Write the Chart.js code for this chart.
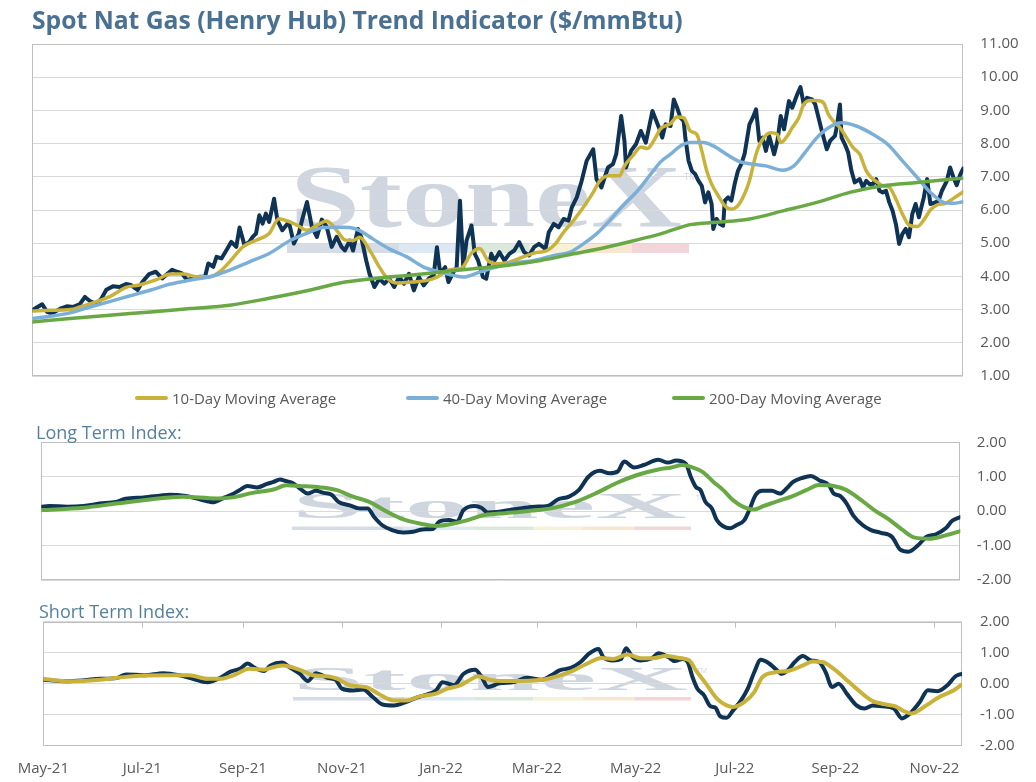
<!DOCTYPE html>
<html>
<head>
<meta charset="utf-8">
<script src="https://cdn.jsdelivr.net/npm/chart.js@4.4.1/dist/chart.umd.min.js"></script>
<style>
  body { margin:0; width:1036px; height:782px; background:#fff; position:relative; overflow:hidden; font-family: "Open Sans", sans-serif; }
  canvas { position:absolute; left:0; }
  .hdr { position:absolute; white-space:nowrap; }
  #title { left:32px; top:5px; font-size:24.7px; line-height:30px; font-weight:700; color:#4a7191; }
  .sub { font-size:18px; line-height:22px; color:#56809c; }
  .lg { position:absolute; top:388px; height:20px; line-height:20px; font-size:15px; color:#595959; display:flex; align-items:center; white-space:nowrap; }
  .lg i { display:inline-block; width:33px; height:4px; margin-right:4px; border-radius:2px; }
</style>
</head>
<body>
<canvas id="main" width="1036" height="390" style="top:0"></canvas>
<canvas id="longIdx" width="1036" height="180" style="top:420px"></canvas>
<canvas id="shortIdx" width="1036" height="182" style="top:600px"></canvas>

<div id="title" class="hdr">Spot Nat Gas (Henry Hub) Trend Indicator ($/mmBtu)</div>
<div class="lg" style="left:135px"><i style="background:#c9b23a"></i>10-Day Moving Average</div>
<div class="lg" style="left:406px"><i style="background:#7bafd7"></i>40-Day Moving Average</div>
<div class="lg" style="left:672px"><i style="background:#69a945"></i>200-Day Moving Average</div>
<div class="hdr sub" style="left:36px; top:421px">Long Term Index:</div>
<div class="hdr sub" style="left:39px; top:600px">Short Term Index:</div>

<script>
// x values are days counted from 1 May 2021
const startDate = '2021-05-01';
const lastDay = 566;
const xTickDates = ['2021-05-01','2021-07-01','2021-09-01','2021-11-01','2022-01-01','2022-03-01','2022-05-01','2022-07-01','2022-09-01','2022-11-01'];
const xTickLabels = ['May-21','Jul-21','Sep-21','Nov-21','Jan-22','Mar-22','May-22','Jul-22','Sep-22','Nov-22'];

// spot price ($/mmBtu)
const spotDay = [0,6,9,12,17,21,25,29,32,35,39,42,45,49,53,57,60,64,67,71,75,79,82,85,88,91,94,98,102,105,107,110,112,115,118,121,124,126,129,132,134,136,138,140,142,144,147,149,152,156,159,162,164,167,170,173,176,179,182,185,188,190,193,195,198,200,203,205,208,211,214,217,220,223,226,229,232,235,238,241,244,246,248,251,253,256,258,260,262,264,267,269,271,274,276,279,281,284,287,290,293,296,299,302,305,308,312,314,317,320,323,326,328,331,334,337,341,343,346,348,350,353,355,358,360,361,364,367,370,373,377,381,383,385,388,390,392,394,396,397,399,401,403,405,407,409,411,413,414,416,418,420,421,423,425,427,429,431,433,436,438,440,442,444,446,448,451,453,455,457,460,462,465,467,469,471,474,476,478,480,483,485,488,489,491,492,494,496,498,500,503,505,507,509,511,513,515,517,519,521,523,525,527,529,531,533,535,537,539,542,544,546,549,551,553,556,558,560,562,564,566];
const spotPrice = [2.98,3.16,2.93,2.88,3.03,3.10,3.08,3.17,3.38,3.26,3.17,3.33,3.60,3.70,3.68,3.77,3.74,3.59,3.84,4.07,4.14,3.94,4.07,4.20,4.14,4.09,3.89,3.94,3.99,3.99,4.39,4.29,4.59,4.54,4.79,5.04,4.89,5.47,4.94,5.04,5.19,5.29,5.84,5.59,5.89,5.64,6.34,5.69,5.39,5.64,4.99,5.29,5.69,6.24,5.49,5.19,5.71,5.49,4.89,5.19,4.89,4.78,5.08,4.78,5.43,5.18,4.48,4.08,3.68,3.93,3.78,3.93,3.68,3.98,3.78,4.08,3.58,3.98,3.73,3.93,4.03,4.88,4.08,4.28,3.83,4.13,4.28,6.28,4.28,5.08,5.53,4.68,4.48,3.98,3.93,4.68,4.48,4.73,4.48,4.68,4.78,5.03,4.73,4.63,4.88,4.98,4.83,5.33,5.58,5.48,5.73,5.68,6.08,6.38,6.88,7.48,7.83,6.93,6.68,6.98,7.28,7.38,7.68,8.83,8.08,7.28,7.78,7.98,8.38,8.03,8.98,8.48,8.18,8.58,8.53,9.33,9.08,8.78,8.68,8.18,7.48,7.18,7.08,6.88,6.73,6.23,6.53,6.18,5.43,5.73,5.58,5.53,6.28,6.38,6.28,6.78,7.18,7.38,7.68,8.58,8.78,9.03,8.08,8.18,7.78,8.23,7.68,8.08,8.83,8.43,9.28,9.08,9.48,9.70,9.18,9.38,9.33,9.18,8.78,8.38,7.83,8.08,8.23,8.48,9.18,8.18,7.98,7.73,7.18,6.83,6.93,6.68,6.88,6.78,6.78,6.93,6.58,6.53,6.58,6.23,5.98,5.58,4.98,5.28,5.43,5.18,5.88,6.18,5.78,6.38,6.93,6.18,6.23,6.28,6.58,6.88,7.28,6.98,6.75,7.05,7.25];

// 10-day moving average
const ma10Day = [0,11,23,29,39,47,57,65,76,84,92,100,108,114,120,128,136,144,150,155,161,167,173,179,185,190,195,199,205,211,216,222,231,240,246,254,261,267,272,277,282,290,298,305,313,318,323,329,335,341,345,351,357,360,365,370,374,378,382,388,392,396,400,404,407,410,413,417,421,425,429,433,436,440,444,449,453,455,459,462,466,469,473,477,481,484,487,491,495,499,503,507,510,514,517,521,525,529,533,538,542,546,550,555,560,566];
const ma10 = [2.96,2.98,3.00,3.08,3.24,3.39,3.67,3.74,3.91,4.07,4.07,3.99,3.99,4.14,4.44,4.89,5.09,5.29,5.74,5.67,5.54,5.39,5.54,5.67,5.39,5.10,5.08,5.18,4.80,4.28,3.93,3.80,3.83,3.88,3.98,4.20,4.25,4.70,4.84,4.48,4.38,4.43,4.58,4.70,4.78,4.98,5.33,5.68,6.08,6.53,6.88,7.03,7.03,7.33,7.63,7.90,7.85,8.10,8.45,8.60,8.80,8.78,8.38,8.28,7.78,7.18,6.78,6.43,6.13,6.03,6.13,6.48,6.88,7.68,8.13,8.33,8.28,8.03,8.23,8.48,8.78,9.18,9.30,9.30,9.23,8.88,8.68,8.48,8.18,7.88,7.68,7.18,6.98,6.83,6.73,6.68,6.33,5.88,5.55,5.50,5.70,6.00,6.15,6.20,6.35,6.55];

// 40-day moving average
const ma40Day = [0,11,23,35,47,59,72,84,96,108,120,132,144,157,169,177,187,193,199,207,217,228,238,248,256,262,272,282,292,305,317,327,335,343,351,359,368,376,382,388,394,400,408,414,422,430,438,446,456,463,469,477,484,492,501,511,520,529,538,546,554,560,566];
const ma40 = [2.73,2.80,2.90,3.08,3.24,3.41,3.59,3.77,3.89,3.99,4.19,4.44,4.69,5.09,5.34,5.47,5.48,5.47,5.38,5.13,4.83,4.58,4.28,4.13,4.03,3.98,4.13,4.28,4.40,4.48,4.63,4.73,4.98,5.28,5.68,6.13,6.58,7.08,7.45,7.68,7.93,8.03,8.03,7.93,7.68,7.46,7.38,7.33,7.20,7.33,7.68,8.18,8.48,8.63,8.53,8.28,7.98,7.48,6.98,6.53,6.23,6.20,6.25];

// 200-day moving average
const ma200Day = [0,23,47,72,96,120,144,169,187,207,228,248,268,288,309,329,349,370,382,400,416,436,457,477,497,517,538,566];
const ma200 = [2.63,2.73,2.83,2.93,3.03,3.13,3.34,3.59,3.80,3.93,4.03,4.13,4.23,4.33,4.48,4.68,4.88,5.13,5.28,5.56,5.63,5.73,5.98,6.23,6.53,6.73,6.83,6.96];

// long term index
const longFastDay = [0,5,16,26,36,46,52,63,73,79,89,98,106,113,118,122,127,133,139,143,147,151,155,160,164,169,174,179,183,190,196,201,205,210,216,223,229,235,241,245,251,256,260,267,271,275,282,290,295,304,312,318,325,331,337,344,350,355,359,365,371,380,386,391,397,400,403,406,409,413,416,420,424,428,433,436,440,444,450,455,459,463,469,474,479,485,488,492,496,500,506,511,517,524,529,534,540,545,551,557,561,566];
const longFast = [0.13,0.15,0.13,0.15,0.22,0.27,0.36,0.40,0.45,0.48,0.44,0.34,0.26,0.40,0.50,0.61,0.73,0.69,0.79,0.85,0.92,0.87,0.81,0.63,0.51,0.59,0.53,0.47,0.27,0.17,0.08,0.08,-0.17,-0.41,-0.55,-0.62,-0.60,-0.53,-0.52,-0.31,-0.26,-0.31,0.03,0.15,0.10,-0.04,-0.02,0.05,0.08,0.13,0.15,0.34,0.42,0.61,1.00,1.17,1.10,1.15,1.44,1.27,1.34,1.49,1.41,1.47,1.37,1.00,0.71,0.61,0.27,0.08,-0.26,-0.44,-0.50,-0.41,-0.26,0.03,0.47,0.59,0.59,0.51,0.66,0.85,0.97,1.02,0.90,0.76,0.51,0.44,0.22,-0.12,-0.41,-0.55,-0.63,-0.75,-1.12,-1.18,-0.99,-0.75,-0.67,-0.50,-0.28,-0.17];
const longSlowDay = [0,26,46,67,87,108,118,130,143,151,159,172,182,192,202,213,223,233,243,254,264,272,282,299,314,329,342,354,367,380,388,395,401,407,414,420,426,433,439,445,454,462,471,479,488,496,505,513,522,530,538,547,555,566];
const longSlow = [0.03,0.10,0.22,0.34,0.42,0.37,0.40,0.53,0.63,0.75,0.73,0.69,0.61,0.42,0.27,-0.02,-0.24,-0.36,-0.43,-0.36,-0.24,-0.12,-0.07,0.00,0.08,0.27,0.53,0.81,1.05,1.21,1.27,1.34,1.27,1.15,0.85,0.61,0.32,0.11,0.05,0.15,0.30,0.42,0.61,0.76,0.73,0.61,0.32,0.03,-0.24,-0.53,-0.77,-0.80,-0.73,-0.58];

// short term index
const shortFastDay = [0,14,25,35,45,51,62,74,84,92,101,109,115,121,126,130,136,140,147,152,158,163,168,175,180,184,191,197,203,209,216,222,230,238,242,246,253,259,266,270,274,281,290,298,307,313,318,325,331,336,342,345,351,356,359,363,368,375,379,385,389,394,397,400,403,407,411,414,417,421,425,430,434,438,442,447,451,455,459,463,468,473,478,482,486,490,495,501,506,511,517,524,529,534,540,545,551,557,562,566];
const shortFast = [0.13,0.08,0.11,0.16,0.18,0.30,0.27,0.34,0.27,0.16,0.05,0.19,0.38,0.48,0.65,0.52,0.41,0.59,0.68,0.52,0.32,0.09,0.34,0.19,0.13,-0.16,-0.22,-0.19,-0.43,-0.67,-0.70,-0.62,-0.45,-0.32,-0.22,0.05,-0.05,0.32,0.45,0.22,-0.11,0.01,0.05,0.19,0.13,0.27,0.43,0.51,0.70,0.96,1.12,0.86,0.75,0.80,1.14,0.86,0.75,0.82,0.98,0.86,0.73,0.80,0.70,0.21,-0.16,-0.37,-0.73,-0.77,-1.05,-1.10,-0.86,-0.53,-0.16,0.37,0.77,0.66,0.48,0.32,0.45,0.70,0.89,0.75,0.70,0.37,-0.11,0.00,-0.32,-0.70,-0.80,-0.70,-0.73,-0.80,-1.12,-0.96,-0.59,-0.21,-0.24,-0.05,0.24,0.32];
const shortSlowDay = [0,14,35,55,76,90,101,109,117,127,136,142,148,154,160,166,175,181,189,199,207,216,224,232,242,249,257,263,268,275,283,294,311,324,334,344,351,360,368,377,383,392,398,402,408,415,421,425,432,438,443,451,459,468,474,480,487,493,501,510,518,525,530,535,544,552,561,566];
const shortSlow = [0.16,0.08,0.13,0.24,0.27,0.27,0.16,0.16,0.27,0.48,0.45,0.54,0.59,0.52,0.41,0.27,0.24,0.16,-0.05,-0.11,-0.34,-0.54,-0.54,-0.41,-0.32,-0.16,-0.05,0.13,0.24,0.13,0.09,0.09,0.16,0.37,0.62,0.83,0.80,0.94,0.82,0.83,0.89,0.83,0.75,0.43,0.02,-0.48,-0.70,-0.75,-0.59,-0.27,0.21,0.37,0.41,0.59,0.72,0.70,0.48,0.21,-0.16,-0.53,-0.66,-0.73,-0.88,-0.96,-0.70,-0.43,-0.21,-0.02];

const NAVY = '#0e3354', GOLD = '#c9b23a', BLUE = '#7bafd7', GREEN = '#69a945';
const GRID = '#d9d9d9', FRAME = '#bfbfbf';
const bandParts = [[0.28,'#d5dce5'],[0.174,'#dce8f2'],[0.15,'#dbe8dc'],[0.124,'#f7f1d8'],[0.13,'#f7e6d2'],[0.142,'#f1d5d8']];

Chart.defaults.font.family = '"Open Sans"';
Chart.defaults.color = '#595959';

function dayOf(s) { return (Date.parse(s) - Date.parse(startDate)) / 86400000; }
const xTickDays = xTickDates.map(dayOf);

function pts(days, vals) { return days.map((d, i) => ({ x: d, y: vals[i] })); }

function line(label, days, vals, color, width, order, smooth) {
  return {
    label: label, data: pts(days, vals), borderColor: color, backgroundColor: color,
    borderWidth: width, pointRadius: 0, order: order, borderJoinStyle: 'round', borderCapStyle: 'round',
    cubicInterpolationMode: smooth ? 'monotone' : 'default', tension: 0
  };
}

// box around the plot area
const frame = {
  id: 'frame',
  beforeDatasetsDraw(chart) {
    const a = chart.chartArea, c = chart.ctx;
    c.save();
    c.strokeStyle = FRAME; c.lineWidth = 1;
    c.strokeRect(Math.round(a.left) + 0.5, Math.round(a.top) + 0.5, Math.round(a.width) - 1, Math.round(a.height) - 1);
    c.restore();
  }
};

// faded company mark behind the grid
const watermark = {
  id: 'watermark',
  beforeDraw(chart, args, o) {
    const c = chart.ctx;
    c.save();
    c.font = 'bold 100px "Liberation Serif"';
    const w = c.measureText('StoneX').width;
    c.translate(o.x, o.base);
    c.scale(o.w / w, o.cap / 66);
    c.fillStyle = '#cfd6df';
    c.fillText('StoneX', 0, 0);
    c.restore();
    c.save();
    c.fillStyle = '#cfd6df';
    c.font = o.tmSize + 'px "Open Sans"';
    c.fillText('TM', o.tmX, o.tmY);
    let x = o.barX;
    bandParts.forEach(p => {
      c.fillStyle = p[1];
      c.fillRect(x, o.barY, p[0] * o.barW, o.barH);
      x += p[0] * o.barW;
    });
    c.restore();
  }
};

// short tick marks hanging from the top edge
const topTicks = {
  id: 'topTicks',
  afterDatasetsDraw(chart) {
    const s = chart.scales.x, a = chart.chartArea, c = chart.ctx;
    c.save();
    c.strokeStyle = FRAME; c.lineWidth = 1;
    xTickDays.forEach(d => {
      const px = Math.round(s.getPixelForValue(d)) + 0.5;
      c.beginPath(); c.moveTo(px, a.top); c.lineTo(px, a.top + 6); c.stroke();
    });
    c.restore();
  }
};

function yAxis(min, max, width, pad) {
  return {
    position: 'right', min: min, max: max,
    afterFit: s => { s.width = width; s.paddingTop = 0; s.paddingBottom = 0; },
    grid: { color: GRID, drawTicks: false },
    border: { display: false },
    ticks: { stepSize: 1, padding: pad, font: { size: 15 }, color: '#595959', callback: v => (Math.abs(v) < 1e-9 ? 0 : v).toFixed(2) }
  };
}

function makeChart(id, datasets, y, layoutPad, wm, xOpts, extra) {
  return new Chart(document.getElementById(id), {
    type: 'line',
    data: { datasets: datasets },
    options: {
      responsive: false, animation: false, events: [],
      layout: { padding: layoutPad },
      plugins: { legend: { display: false }, tooltip: { enabled: false }, watermark: wm },
      scales: { x: xOpts, y: y }
    },
    plugins: [watermark, frame].concat(extra || [])
  });
}

const hiddenX = { type: 'linear', min: 0, max: lastDay, display: false };

makeChart('main', [
  line('Spot', spotDay, spotPrice, NAVY, 4, 4, false),
  line('10-Day Moving Average', ma10Day, ma10, GOLD, 3.5, 3, true),
  line('40-Day Moving Average', ma40Day, ma40, BLUE, 3.5, 2, true),
  line('200-Day Moving Average', ma200Day, ma200, GREEN, 3.5, 1, true)
], yAxis(1, 11, 72.7, 17), { top: 44, left: 32.3, right: 0, bottom: 14 },
  { x: 290, w: 392, base: 226, cap: 58, tmX: 684, tmY: 180, tmSize: 9, barX: 287, barW: 402, barY: 244, barH: 9 }, hiddenX);

makeChart('longIdx', [
  line('Long Term', longFastDay, longFast, NAVY, 4, 2, true),
  line('Long Term Signal', longSlowDay, longSlow, GREEN, 4, 1, true)
], yAxis(-2, 2, 75.7, 16.5), { top: 22.3, left: 41.3, right: 0, bottom: 20 },
  { x: 292, w: 395, base: 98, cap: 23, tmX: 696, tmY: 80, tmSize: 7, barX: 292, barW: 399, barY: 106.5, barH: 3.5 }, hiddenX);

makeChart('shortIdx', [
  line('Short Term', shortFastDay, shortFast, NAVY, 4, 2, true),
  line('Short Term Signal', shortSlowDay, shortSlow, GOLD, 4, 1, true)
], yAxis(-2, 2, 74, 18), { top: 21.7, left: 43.3, right: 0, bottom: 0 },
  { x: 293, w: 395, base: 90, cap: 22, tmX: 697, tmY: 73, tmSize: 7, barX: 293, barW: 398, barY: 97, barH: 3.5 },
  {
    type: 'linear', min: 0, max: lastDay, position: 'bottom',
    afterFit: s => { s.height = 36.3; },
    afterBuildTicks: s => { s.ticks = xTickDays.map(v => ({ value: v })); },
    grid: { display: false }, border: { display: false },
    ticks: { autoSkip: false, maxRotation: 0, padding: 6, font: { size: 15 }, color: '#595959',
      callback: (v, i) => xTickLabels[i] }
  }, [topTicks]);
</script>
</body>
</html>
